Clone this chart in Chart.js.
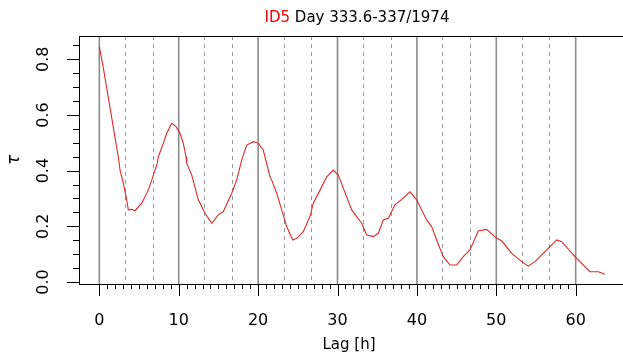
<!DOCTYPE html>
<html>
<head>
<meta charset="utf-8">
<script src="https://cdn.jsdelivr.net/npm/chart.js@4/dist/chart.umd.min.js"></script>
<style>
  html, body { margin: 0; padding: 0; background: #fff; overflow: hidden; }
  #wrap { width: 623px; height: 355px; position: relative; }
</style>
</head>
<body>
<div id="wrap"><canvas id="c" width="623" height="355"></canvas></div>
<script>
// Lag in hours and the coefficient tau at each lag
const lags = [0, 0.5, 1.0, 1.5, 2.0, 2.39, 2.61, 3.02, 3.45, 3.65, 4.08, 4.50, 5.34, 6.17, 6.60, 7.30,
  7.43, 8.06, 8.49, 8.90, 9.12, 9.66, 10.16, 10.58, 10.92, 11.01, 11.64, 12.47, 13.31, 14.16,
  14.99, 15.62, 16.68, 17.30, 17.93, 18.56, 19.40, 20.03, 20.65, 21.50, 21.71, 22.34, 22.97,
  23.60, 24.36, 24.86, 25.69, 26.53, 26.95, 27.80, 28.64, 29.47, 30.10, 30.73, 31.79, 32.42,
  33.05, 33.68, 34.51, 35.14, 35.77, 36.40, 37.24, 38.29, 39.13, 39.97, 40.60, 41.23, 41.86,
  42.49, 43.32, 44.17, 45.01, 45.84, 46.69, 47.73, 48.79, 50.05, 50.68, 51.94, 53.20, 54.03,
  54.87, 55.50, 56.55, 57.61, 58.24, 59.91, 61.80, 62.85, 63.69];
const tau = [0.845, 0.770, 0.685, 0.600, 0.515, 0.450, 0.402, 0.355, 0.295, 0.259, 0.261, 0.256, 0.283,
  0.330, 0.366, 0.426, 0.450, 0.498, 0.534, 0.558, 0.570, 0.558, 0.534, 0.498, 0.450, 0.426,
  0.384, 0.295, 0.247, 0.211, 0.241, 0.253, 0.319, 0.366, 0.438, 0.492, 0.504, 0.498, 0.474,
  0.378, 0.366, 0.319, 0.259, 0.199, 0.151, 0.157, 0.181, 0.235, 0.283, 0.330, 0.378, 0.402,
  0.384, 0.337, 0.259, 0.235, 0.211, 0.169, 0.163, 0.175, 0.223, 0.229, 0.277, 0.301, 0.324,
  0.295, 0.259, 0.223, 0.199, 0.151, 0.091, 0.061, 0.061, 0.091, 0.115, 0.183, 0.189, 0.157,
  0.148, 0.103, 0.073, 0.057, 0.073, 0.091, 0.121, 0.151, 0.145, 0.091, 0.037, 0.037, 0.028];

// Reference lines: full days (solid) and intermediate marks (dashed)
const solidLags = [0, 10, 20, 30, 40, 50, 60];
const dashedLags = [3.2, 6.7, 13.2, 16.7, 23.2, 26.7, 33.2, 36.7, 43.2, 46.7, 53.2, 56.7];

// Axis ticks and labels
const xMajorTicks = [0, 10, 20, 30, 40, 50, 60];
const xMinorTicks = Array.from({ length: 61 }, (_, i) => i);
const yMajorTicks = [0.0, 0.2, 0.4, 0.6, 0.8];
const yMinorTicks = [0, 0.05, 0.1, 0.15, 0.2, 0.25, 0.3, 0.35, 0.4, 0.45, 0.5, 0.55, 0.6, 0.65, 0.7, 0.75, 0.8, 0.85];
const yTickLabels = ['0.0', '0.2', '0.4', '0.6', '0.8'];

const titleId = 'ID5';
const titleRest = ' Day 333.6-337/1974';
const xTitle = 'Lag [h]';
const yTitle = '\u03C4';

const FONT = '"DejaVu Sans", sans-serif';

const decorations = {
  id: 'decorations',
  beforeDatasetsDraw(chart) {
    const { ctx, chartArea: a, scales: { x } } = chart;
    ctx.save();
    ctx.beginPath();
    ctx.rect(a.left, a.top, a.right - a.left, a.bottom - a.top);
    ctx.clip();
    ctx.strokeStyle = '#9a9a9a';
    ctx.lineWidth = 1;
    ctx.setLineDash([4, 4]);
    dashedLags.forEach(v => {
      const px = Math.round(x.getPixelForValue(v)) + 0.5;
      ctx.beginPath(); ctx.moveTo(px, a.top); ctx.lineTo(px, a.bottom); ctx.stroke();
    });
    ctx.setLineDash([]);
    ctx.strokeStyle = '#8c8c8c';
    ctx.lineWidth = 1.6;
    solidLags.forEach(v => {
      const px = x.getPixelForValue(v);
      ctx.beginPath(); ctx.moveTo(px, a.top); ctx.lineTo(px, a.bottom); ctx.stroke();
    });
    ctx.restore();
  },
  afterDraw(chart) {
    const { ctx, chartArea: a, scales: { x, y } } = chart;
    ctx.save();
    ctx.strokeStyle = '#000';
    ctx.lineWidth = 1;
    // top frame line
    ctx.beginPath(); ctx.moveTo(a.left, a.top + 0.5); ctx.lineTo(a.right, a.top + 0.5); ctx.stroke();

    // x ticks
    xMinorTicks.forEach(v => {
      const px = Math.round(x.getPixelForValue(v)) + 0.5;
      const len = xMajorTicks.includes(v) ? 12 : 5;
      ctx.beginPath(); ctx.moveTo(px, a.bottom); ctx.lineTo(px, a.bottom + len); ctx.stroke();
    });
    // y ticks
    yMinorTicks.forEach(v => {
      const py = Math.round(y.getPixelForValue(v)) + 0.5;
      const len = yMajorTicks.some(m => Math.abs(m - v) < 1e-9) ? 12 : 6;
      ctx.beginPath(); ctx.moveTo(a.left, py); ctx.lineTo(a.left - len, py); ctx.stroke();
    });

    ctx.fillStyle = '#000';
    ctx.font = '16px ' + FONT;
    ctx.textAlign = 'center';
    ctx.textBaseline = 'middle';
    xMajorTicks.forEach(v => {
      ctx.fillText(String(v), x.getPixelForValue(v), 321);
    });
    yMajorTicks.forEach((v, i) => {
      ctx.save();
      ctx.translate(44, y.getPixelForValue(v));
      ctx.rotate(-Math.PI / 2);
      ctx.fillText(yTickLabels[i], 0, 0);
      ctx.restore();
    });

    // axis titles
    ctx.font = '15px ' + FONT;
    ctx.fillText(xTitle, 349, 345);
    ctx.save();
    ctx.translate(15, 160);
    ctx.rotate(-Math.PI / 2);
    ctx.font = 'italic 17px ' + FONT;
    ctx.fillText(yTitle, 0, 0);
    ctx.restore();

    // main title in two colours
    ctx.font = '15px ' + FONT;
    const w1 = ctx.measureText(titleId).width;
    const w2 = ctx.measureText(titleRest).width;
    const start = 357 - (w1 + w2) / 2;
    ctx.textAlign = 'left';
    ctx.fillStyle = '#ff0000';
    ctx.fillText(titleId, start, 18);
    ctx.fillStyle = '#000';
    ctx.fillText(titleRest, start + w1, 18);
    ctx.restore();
  }
};

new Chart(document.getElementById('c'), {
  type: 'line',
  data: {
    datasets: [{
      data: lags.map((v, i) => ({ x: v, y: tau[i] })),
      borderColor: '#dd2a2a',
      borderWidth: 1.1,
      pointRadius: 0,
      tension: 0,
      fill: false
    }]
  },
  options: {
    responsive: false,
    animation: false,
    devicePixelRatio: 1,
    layout: { padding: { top: 36, right: 0, left: 0, bottom: 0 } },
    plugins: { legend: { display: false }, tooltip: { enabled: false }, title: { display: false } },
    scales: {
      x: {
        type: 'linear',
        min: -2.56,
        max: 65.96,
        grid: { drawOnChartArea: false, drawTicks: false },
        border: { display: true, color: '#000', width: 1 },
        ticks: { display: false },
        afterFit(scale) { scale.height = 71; }
      },
      y: {
        type: 'linear',
        min: -0.0072,
        max: 0.8836,
        grid: { drawOnChartArea: false, drawTicks: false },
        border: { display: true, color: '#000', width: 1 },
        ticks: { display: false },
        afterFit(scale) { scale.width = 79; }
      }
    }
  },
  plugins: [decorations]
});
</script>
</body>
</html>
